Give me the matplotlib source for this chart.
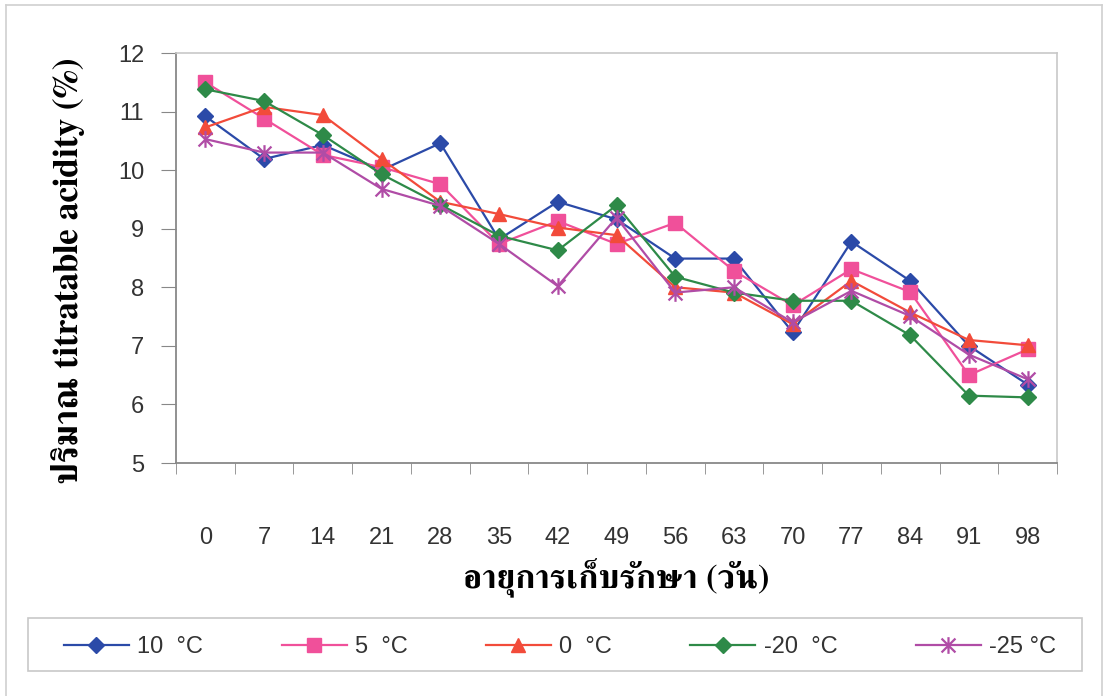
import matplotlib
matplotlib.use("Agg")
import matplotlib.pyplot as plt
from matplotlib.path import Path
from matplotlib.lines import Line2D
from matplotlib.patches import Rectangle

days = [0, 7, 14, 21, 28, 35, 42, 49, 56, 63, 70, 77, 84, 91, 98]

t_10 = [10.92, 10.19, 10.43, 10.0, 10.46, 8.82, 9.46, 9.16, 8.49, 8.49, 7.23, 8.78, 8.11, 7.0, 6.34]
t_5 = [11.5, 10.88, 10.26, 10.05, 9.76, 8.74, 9.13, 8.74, 9.1, 8.28, 7.69, 8.31, 7.92, 6.5, 6.94]
t_0 = [10.73, 11.08, 10.94, 10.19, 9.46, 9.25, 9.02, 8.89, 8.0, 7.91, 7.37, 8.11, 7.57, 7.1, 7.01]
t_m20 = [11.38, 11.18, 10.6, 9.93, 9.41, 8.88, 8.63, 9.4, 8.18, 7.91, 7.77, 7.77, 7.18, 6.15, 6.12]
t_m25 = [10.53, 10.3, 10.3, 9.68, 9.39, 8.74, 8.02, 9.19, 7.91, 8.0, 7.4, 7.94, 7.51, 6.85, 6.43]

labels = ["10  °C", "5  °C", "0  °C", "-20  °C", "-25 °C"]

# X with a vertical bar, like the spreadsheet "star" marker
star = Path([(-1, -1), (1, 1), (-1, 1), (1, -1), (0, -1.2), (0, 1.2)],
            [Path.MOVETO, Path.LINETO, Path.MOVETO, Path.LINETO, Path.MOVETO, Path.LINETO])

styles = [
    dict(color="#2b4aa8", marker="D", ms=8.5),
    dict(color="#f0509a", marker="s", ms=9.5),
    dict(color="#f24b3a", marker="^", ms=10.5),
    dict(color="#2e8a48", marker="D", ms=8.5),
    dict(color="#b04ca6", marker=star, ms=12, mew=1.6, mfc="none"),
]

W, H = 1107, 696
fig = plt.figure(figsize=(W / 100, H / 100), dpi=100)
ax = fig.add_axes([176 / W, 1 - 463 / H, (1057 - 176) / W, (463 - 53) / H])

x = list(range(len(days)))
series = [t_10, t_5, t_0, t_m20, t_m25]
for vals, st, lab in zip(series, styles, labels):
    ax.plot(x, vals, lw=1.6, label=lab, **st)

ax.set_xlim(-0.5, len(days) - 0.5)
ax.set_ylim(5, 12)
ax.set_yticks(range(5, 13))
ax.set_xticks(x)
ax.set_xticklabels([str(d) for d in days])
ax.set_xticks([i - 0.5 for i in range(len(days) + 1)], minor=True)

for t in ax.get_xticklabels() + ax.get_yticklabels():
    t.set_fontfamily("Liberation Sans")
    t.set_fontsize(17)
    t.set_color("#333333")
ax.tick_params(axis="x", which="major", length=0, pad=46)
ax.tick_params(axis="x", which="minor", length=8, color="#888888", direction="out")
ax.tick_params(axis="y", length=11, color="#888888", pad=12, direction="out")

for side in ["left", "bottom"]:
    ax.spines[side].set_color("#888888")
    ax.spines[side].set_linewidth(1.3)
for side in ["top", "right"]:
    ax.spines[side].set_color("#c8c8c8")
    ax.spines[side].set_linewidth(1.2)

ax.set_ylabel("ปริมาณ titratable acidity (%)", family=["FreeSerif"], weight="bold",
              fontsize=25.5)
ax.yaxis.set_label_coords(-0.103, 0.47)
ax.set_xlabel("อายุการเก็บรักษา (วัน)", family=["FreeSerif"], weight="bold",
              fontsize=24.5, labelpad=6)

# legend box drawn separately so the entries can sit inset from its edges
fig.add_artist(Rectangle((28 / W, 1 - 671 / H), (1082 - 28) / W, 53 / H,
                         transform=fig.transFigure, fill=False, ec="#c8c8c8", lw=1.2))
leg = fig.legend(loc="center", bbox_to_anchor=(64 / W, 1 - 677 / H, (1056 - 64) / W, 60 / H),
                 mode="expand", ncol=5, frameon=False, handlelength=2.75,
                 handletextpad=0.35, borderaxespad=0, borderpad=0,
                 prop=dict(family="Liberation Sans", size=17))
for t in leg.get_texts():
    t.set_color("#333333")

# thin outer frame of the chart
for xs, ys in [([6, 6], [696, 5]), ([6, 1102], [5, 5]), ([1102, 1102], [5, 696])]:
    fig.add_artist(Line2D([v / W for v in xs], [1 - v / H for v in ys],
                          color="#d0d0d0", lw=1.2, transform=fig.transFigure))

fig.savefig("out.png", dpi=100)
